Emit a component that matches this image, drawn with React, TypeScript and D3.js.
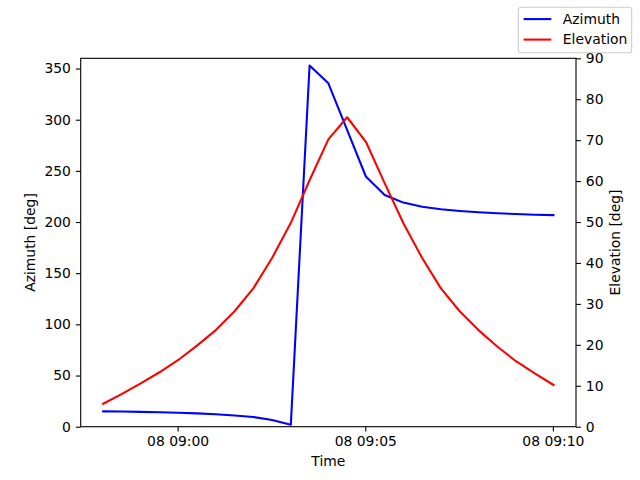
import { useEffect, useRef } from 'react';
import * as d3 from 'd3';

// Sample times (08 Jan, UTC), one every 30 s
const TIMES = [
  '08:58:01', '08:58:31', '08:59:01', '08:59:31', '09:00:01', '09:00:31', '09:01:01',
  '09:01:31', '09:02:01', '09:02:31', '09:03:01', '09:03:31', '09:04:01', '09:04:31',
  '09:05:01', '09:05:31', '09:06:01', '09:06:31', '09:07:01', '09:07:31', '09:08:01',
  '09:08:31', '09:09:01', '09:09:31', '09:10:01',
];

const AZIMUTH = [
  15, 14.8, 14.5, 14.1, 13.6, 13.0, 12.2, 11.0, 9.5, 6.5, 2, 353, 335.5, 290, 244.5,
  226.5, 219, 215, 212.5, 210.8, 209.5, 208.5, 207.8, 207.2, 206.8,
];

const ELEVATION = [
  5.6, 8.0, 10.6, 13.3, 16.3, 19.8, 23.6, 28.2, 33.8, 41.2, 49.8, 60.2, 70.2, 75.6, 69.6,
  59.5, 49.7, 41.2, 33.8, 28.2, 23.6, 19.6, 16.0, 13.0, 10.2,
];

const AZ_TICKS = [0, 50, 100, 150, 200, 250, 300, 350];
const EL_TICKS = [0, 10, 20, 30, 40, 50, 60, 70, 80, 90];
const TIME_TICKS = ['09:00:00', '09:05:00', '09:10:00'];

const W = 640;
const H = 480;
const PAD = { top: 58.3, right: 64, bottom: 53.3, left: 80.7 };
const FONT = '"DejaVu Sans", sans-serif';

const toDate = (s: string) => {
  const [h, m, sec] = s.split(':').map(Number);
  return new Date(Date.UTC(2024, 0, 8, h, m, sec));
};

export default function App() {
  const svgRef = useRef<SVGSVGElement>(null);

  useEffect(() => {
    if (!svgRef.current) return;
    const svg = d3.select(svgRef.current);
    svg.selectAll('*').remove();

    const innerW = W - PAD.left - PAD.right;
    const innerH = H - PAD.top - PAD.bottom;
    const dates = TIMES.map(toDate);

    // matplotlib-style 5% margin on x
    const [t0, t1] = d3.extent(dates) as [Date, Date];
    const span = +t1 - +t0;
    const x = d3
      .scaleUtc()
      .domain([new Date(+t0 - span * 0.05), new Date(+t1 + span * 0.05)])
      .range([0, innerW]);
    const yAz = d3.scaleLinear().domain([0, 360]).range([innerH, 0]);
    const yEl = d3.scaleLinear().domain([0, 90]).range([innerH, 0]);

    const g = svg.append('g').attr('transform', `translate(${PAD.left},${PAD.top})`);

    const styleAxis = (sel: d3.Selection<SVGGElement, unknown, null, undefined>) => {
      sel.select('.domain').remove();
      sel.selectAll('line').attr('stroke', '#000').attr('stroke-width', 1.1);
      sel
        .selectAll('text')
        .attr('fill', '#000')
        .style('font-family', FONT)
        .style('font-size', '13.9px');
    };

    // Bottom axis
    g.append('g')
      .attr('transform', `translate(0,${innerH})`)
      .call(
        d3
          .axisBottom(x)
          .tickValues(TIME_TICKS.map(toDate))
          .tickFormat((d) => d3.utcFormat('%d %H:%M')(d as Date))
          .tickSize(4.9)
          .tickPadding(4.9),
      )
      .call(styleAxis);

    // Left axis
    g.append('g')
      .call(d3.axisLeft(yAz).tickValues(AZ_TICKS).tickSize(4.9).tickPadding(4.9))
      .call(styleAxis);

    // Right axis
    g.append('g')
      .attr('transform', `translate(${innerW},0)`)
      .call(d3.axisRight(yEl).tickValues(EL_TICKS).tickSize(4.9).tickPadding(4.9))
      .call(styleAxis);

    // Lines
    const azLine = d3
      .line<number>()
      .x((_, i) => x(dates[i]))
      .y((d) => yAz(d));
    const elLine = d3
      .line<number>()
      .x((_, i) => x(dates[i]))
      .y((d) => yEl(d));

    g.append('path')
      .datum(AZIMUTH)
      .attr('d', azLine)
      .attr('fill', 'none')
      .attr('stroke', '#0000ff')
      .attr('stroke-width', 2.08)
      .attr('stroke-linejoin', 'round')
      .attr('stroke-linecap', 'square');

    g.append('path')
      .datum(ELEVATION)
      .attr('d', elLine)
      .attr('fill', 'none')
      .attr('stroke', '#ff0000')
      .attr('stroke-width', 2.08)
      .attr('stroke-linejoin', 'round')
      .attr('stroke-linecap', 'square');

    // Frame
    g.append('rect')
      .attr('width', innerW)
      .attr('height', innerH)
      .attr('fill', 'none')
      .attr('stroke', '#000')
      .attr('stroke-width', 1.1);

    // Axis labels
    const label = (sel: d3.Selection<SVGTextElement, unknown, null, undefined>) =>
      sel
        .attr('text-anchor', 'middle')
        .attr('fill', '#000')
        .style('font-family', FONT)
        .style('font-size', '13.9px');

    g.append('text')
      .attr('x', innerW / 2)
      .attr('y', innerH + 39)
      .text('Time')
      .call(label);

    g.append('text')
      .attr('transform', `translate(${30 - PAD.left},${innerH / 2}) rotate(-90)`)
      .attr('dy', '0.35em')
      .text('Azimuth [deg]')
      .call(label);

    g.append('text')
      .attr('transform', `translate(${615 - PAD.left},${innerH / 2}) rotate(-90)`)
      .attr('dy', '0.35em')
      .text('Elevation [deg]')
      .call(label);

    // Figure legend (upper right)
    const lg = svg.append('g').attr('transform', 'translate(518.3,7.3)');
    lg.append('rect')
      .attr('width', 113.4)
      .attr('height', 45.4)
      .attr('rx', 2.8)
      .attr('fill', '#fff')
      .attr('fill-opacity', 0.8)
      .attr('stroke', '#cccccc')
      .attr('stroke-width', 1.1);
    const entries = [
      { name: 'Azimuth', colour: '#0000ff' },
      { name: 'Elevation', colour: '#ff0000' },
    ];
    entries.forEach((e, i) => {
      const cy = 11.8 + i * 20.5;
      lg.append('line')
        .attr('x1', 5.3)
        .attr('x2', 33)
        .attr('y1', cy)
        .attr('y2', cy)
        .attr('stroke', e.colour)
        .attr('stroke-width', 2.08);
      lg.append('text')
        .attr('x', 44.5)
        .attr('y', cy)
        .attr('dy', '0.35em')
        .attr('fill', '#000')
        .style('font-family', FONT)
        .style('font-size', '13.9px')
        .text(e.name);
    });
  }, []);

  return (
    <svg
      ref={svgRef}
      width={W}
      height={H}
      style={{ position: 'fixed', left: 0, top: 0, background: '#fff', display: 'block' }}
    />
  );
}
